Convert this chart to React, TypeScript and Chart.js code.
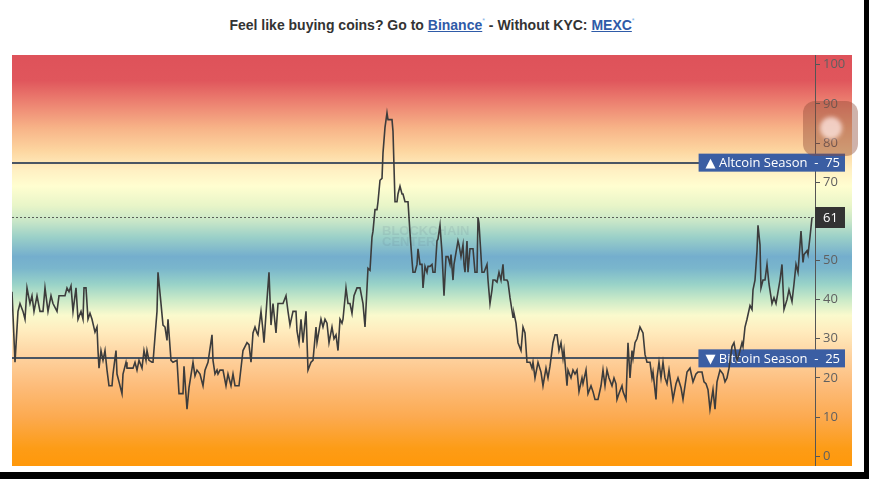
import React, { useEffect, useRef } from "react";
import { Chart, registerables } from "chart.js";

Chart.register(...registerables);

// Day index (x) and Altcoin Season Index value (y)
const days = [
  0, 3, 6, 8, 11, 13, 15, 18, 20, 22, 25, 28, 31, 33, 36, 39, 41, 45, 47, 53, 55, 57, 59, 61, 64, 66, 69, 71, 72, 74, 76, 78, 80, 83, 85, 86, 87, 89, 91, 93, 95, 97, 100, 101, 104, 105, 107, 110, 111, 114, 115, 118, 121, 123, 125, 127, 130, 132, 134, 135, 137, 140, 141, 145, 146, 149, 151, 153, 155, 156, 159, 161, 165, 167, 171, 172, 175, 177, 181, 183, 185, 188, 191, 193, 196,
  200, 201, 203, 205, 206, 208, 211, 214, 216, 219, 221, 223, 227, 231, 235, 237, 239, 241, 243, 245, 246, 249, 251, 252, 255, 257, 259, 261, 264, 266, 270, 271, 274, 276, 278, 281, 284, 285, 287, 289, 291, 294, 296, 299, 301, 304, 305, 309, 311, 313, 315, 317, 320, 322, 324, 326, 328, 330, 331, 334, 336, 338, 340, 342, 345, 348, 351, 353, 356,
  358, 360, 361, 363, 365, 366, 368, 370, 371, 373, 375, 376, 379, 380, 381, 383, 385, 386, 388, 390, 391, 393, 395, 396, 398, 400, 401, 403, 405, 406, 408, 410, 411, 413, 415, 416, 418, 420, 421, 423, 425, 426, 428, 430, 432, 434, 436, 438, 439, 441, 442, 444, 446, 447, 449, 451, 452, 453, 455, 456, 458, 461, 463, 465, 466, 467, 470, 472, 475, 476, 478, 480, 481, 483, 485, 487, 489, 491, 492, 495, 496,
  498, 501, 502, 504, 506, 509, 511, 513, 515, 518, 520, 521, 523, 526, 529, 531, 534, 536, 538, 541, 543, 545, 547, 549, 551, 552, 555, 556, 559, 561, 563, 565, 567, 570, 571, 574, 576, 579, 581, 583, 586, 589, 591, 593, 595, 597, 600, 602, 604, 605, 607, 610, 611, 614, 616, 618, 620, 621, 623, 625, 628, 631, 633, 635, 638, 640, 641, 644, 645, 647, 649, 651, 653, 655, 657, 660, 661, 664, 666, 669, 671, 673, 675, 678,
  681, 684, 686, 690, 692, 694, 696, 698, 701, 703, 705, 708, 711, 713, 715, 717, 720, 722, 725, 727, 730, 731, 733, 735, 738, 740, 741, 743, 745, 746, 748, 749, 751, 753, 755, 757, 760, 762, 764, 766, 768, 770, 772, 775, 777, 780, 782, 784, 786, 789, 791, 792, 795, 796, 798, 800,
];

const values = [
  42, 24, 37, 39, 37, 35, 43, 39, 41, 37, 41, 37, 37, 43, 37, 41, 39, 37, 41, 41, 43, 42, 43.5, 37, 43, 35, 37, 35, 43, 43, 35, 36.5, 35, 31.7, 33, 27, 22.5, 27, 24.5, 27, 22, 18, 18, 21, 27, 21, 19, 16, 21, 24, 22.5, 22.5, 22.5, 24, 22, 24.5, 22.5, 27, 24.5, 27, 24.5, 24, 24, 37, 47, 39, 33.5, 33, 29.6, 35, 24.5, 24, 24.5, 16, 16, 23, 12, 17.5, 24, 20.5, 22, 21, 18, 22, 24,
  31, 24.5, 21, 22, 21, 22, 22, 18, 21, 18, 21, 18, 18, 27, 29, 28.5, 24, 31.5, 33, 31.5, 31, 37, 32, 29, 40, 47, 33.5, 39, 31.5, 39, 39, 39, 41, 37, 33.5, 37, 37, 32, 29, 35, 29, 37, 22, 24, 24.5, 33, 29, 35, 33, 35, 34, 29, 33, 30, 31, 27, 35, 34, 35, 43, 39, 39, 36.5, 41, 43, 43, 39, 33, 48,
  47.5, 56, 57.5, 63, 63, 65, 70.5, 71, 77.5, 84, 87.7, 86, 86, 86, 83, 65, 65, 67, 69, 67, 67, 65, 65, 65, 57, 50, 47, 47, 49, 53, 49, 49, 43, 48.5, 47, 48.5, 48.5, 49, 47, 47, 55, 55.5, 59, 52, 41, 51, 51, 49, 51.5, 45, 49, 52, 55, 54, 51, 54, 49, 47, 55, 47, 53, 53, 47, 47, 61, 59.5, 47, 47, 49, 45, 39, 42.5, 45, 45, 44.5, 47, 45, 49, 45, 45, 44.5,
  40.5, 35.5, 36.5, 34, 29, 27, 33, 31.5, 24, 24, 22.5, 24, 20, 24, 21.5, 18, 22.5, 20, 23, 29, 31, 31, 27, 29, 25, 27, 18, 22, 20, 22, 21, 22, 16.5, 20, 18.5, 22, 16, 18, 16.5, 14.5, 14.5, 18, 22, 18, 22, 20, 18, 20, 18.5, 14.5, 16, 18, 16.5, 14.5, 29, 20, 27, 25, 29, 30, 33, 31.5, 26, 24, 24, 20, 21.5, 14.5, 20, 24, 20, 24, 20, 18.5, 22, 16.5, 14.5, 18.5, 20, 17.5, 14.5, 18, 21.5, 22.5,
  19, 21, 21.5, 21.5, 19, 18.5, 17, 12, 17, 12, 19, 22, 21, 19, 20, 22.5, 28, 29, 24.5, 26, 29, 28, 33, 35, 38.5, 37.5, 42.5, 45, 52.5, 59, 54, 43, 45, 45, 49, 44, 39, 40.5, 39, 42, 45, 49, 37.5, 40, 42.5, 39.5, 44, 49, 47, 57.5, 49.5, 51.5, 52.5, 51.5, 56, 61,
];

const yTicks = [0, 10, 20, 30, 40, 50, 60, 70, 80, 90, 100];
const altcoinLevel = 75;
const bitcoinLevel = 25;
const currentValue = 61;
const altcoinLabel = "\u25B2 Altcoin Season  -  75";
const bitcoinLabel = "\u25BC Bitcoin Season  -  25";
const watermarkLines = ["BLOCKCHAIN", "CENTER"];

const Y_MIN = -2.5;
const Y_MAX = 102.5;
const X_MAX = 803;

const gradientStops: [number, string][] = [
  [102.5, "rgb(222,82,90)"],
  [96, "rgb(224,86,92)"],
  [90, "rgb(237,132,114)"],
  [84, "rgb(247,178,135)"],
  [78, "rgb(253,214,160)"],
  [73, "rgb(255,240,195)"],
  [69, "rgb(255,254,208)"],
  [64, "rgb(232,245,200)"],
  [60, "rgb(200,230,200)"],
  [56, "rgb(155,208,200)"],
  [51, "rgb(116,174,205)"],
  [48, "rgb(122,182,204)"],
  [44, "rgb(152,210,200)"],
  [40, "rgb(202,234,200)"],
  [36, "rgb(250,250,205)"],
  [32, "rgb(255,236,190)"],
  [26, "rgb(254,212,162)"],
  [18, "rgb(253,188,122)"],
  [10, "rgb(252,170,80)"],
  [2, "rgb(253,156,22)"],
  [-2.5, "rgb(255,152,10)"],
];

const LABEL_FONT = "13px 'Open Sans', 'DejaVu Sans', sans-serif";

const bgPlugin = {
  id: "bgGradient",
  beforeDraw(chart: any) {
    const { ctx, chartArea, scales } = chart;
    const y = scales.y;
    const span = chartArea.bottom - chartArea.top;
    const g = ctx.createLinearGradient(0, chartArea.top, 0, chartArea.bottom);
    for (const [v, c] of gradientStops) {
      const p = (y.getPixelForValue(v) - chartArea.top) / span;
      g.addColorStop(Math.min(1, Math.max(0, p)), c);
    }
    ctx.save();
    ctx.fillStyle = g;
    ctx.fillRect(0, chartArea.top, chart.width, span);
    ctx.restore();
  },
};

function drawTag(ctx: any, text: string, yPix: number, right: number) {
  ctx.font = LABEL_FONT;
  const w = ctx.measureText(text).width;
  const h = 18;
  const left = right - w - 12;
  ctx.fillStyle = "#3b5ea3";
  ctx.fillRect(left, yPix - h / 2, right - left, h);
  ctx.fillStyle = "#ffffff";
  ctx.textAlign = "left";
  ctx.textBaseline = "middle";
  ctx.fillText(text, left + 7, yPix + 0.5);
}

const annotationPlugin = {
  id: "levels",
  beforeDatasetsDraw(chart: any) {
    const { ctx, chartArea, scales } = chart;
    const y = scales.y;
    const x = scales.x;
    ctx.save();

    // watermark
    ctx.font = "bold 13px 'Liberation Sans', Arial, sans-serif";
    ctx.fillStyle = "rgba(80,100,120,0.12)";
    ctx.textAlign = "left";
    ctx.textBaseline = "middle";
    const wx = x.getPixelForValue(370);
    ctx.fillText(watermarkLines[0], wx, y.getPixelForValue(57.5));
    ctx.fillText(watermarkLines[1], wx, y.getPixelForValue(54.5));

    // level lines
    ctx.strokeStyle = "#4a5563";
    ctx.lineWidth = 2;
    for (const lv of [altcoinLevel, bitcoinLevel]) {
      const py = Math.round(y.getPixelForValue(lv));
      ctx.beginPath();
      ctx.moveTo(chartArea.left, py);
      ctx.lineTo(chartArea.right, py);
      ctx.stroke();
    }

    // current value dotted line
    const cy = Math.round(y.getPixelForValue(currentValue)) + 0.5;
    ctx.strokeStyle = "rgba(60,60,60,0.8)";
    ctx.lineWidth = 1;
    ctx.setLineDash([2, 2]);
    ctx.beginPath();
    ctx.moveTo(chartArea.left, cy);
    ctx.lineTo(chartArea.right, cy);
    ctx.stroke();
    ctx.setLineDash([]);

    const tagRight = chartArea.right + 30;
    drawTag(ctx, altcoinLabel, y.getPixelForValue(altcoinLevel), tagRight);
    drawTag(ctx, bitcoinLabel, y.getPixelForValue(bitcoinLevel), tagRight);

    // current value box
    const bh = 21;
    ctx.fillStyle = "#333333";
    ctx.fillRect(chartArea.right, cy - bh / 2, 30, bh);
    ctx.fillStyle = "#ffffff";
    ctx.font = LABEL_FONT;
    ctx.textAlign = "left";
    ctx.textBaseline = "middle";
    ctx.fillText(String(currentValue), chartArea.right + 8, cy + 0.5);

    ctx.restore();
  },
};

export default function App() {
  const canvasRef = useRef<HTMLCanvasElement | null>(null);

  useEffect(() => {
    const canvas = canvasRef.current;
    if (!canvas) return;
    const points = days.map((d, i) => ({ x: d, y: values[i] }));
    const chart = new Chart(canvas, {
      type: "line",
      data: {
        datasets: [
          {
            data: points,
            borderColor: "#3c3c3c",
            borderWidth: 1.6,
            pointRadius: 0,
            tension: 0,
            fill: false,
          },
        ],
      },
      options: {
        animation: false,
        responsive: false,
        maintainAspectRatio: false,
        devicePixelRatio: 1,
        layout: { padding: 0 },
        plugins: {
          legend: { display: false },
          tooltip: { enabled: false },
          title: { display: false },
        },
        scales: {
          x: { type: "linear", min: 0, max: X_MAX, display: false },
          y: {
            position: "right",
            min: Y_MIN,
            max: Y_MAX,
            afterBuildTicks: (s: any) => {
              s.ticks = yTicks.map((v) => ({ value: v }));
            },
            afterFit: (s: any) => {
              s.width = 37;
              s.paddingTop = 0;
              s.paddingBottom = 0;
            },
            grid: { drawOnChartArea: false, drawTicks: true, tickLength: 5, color: "#555" },
            border: { display: true, color: "#555", width: 1 },
            ticks: {
              color: "#606060",
              font: { family: "'Open Sans', 'DejaVu Sans', sans-serif", size: 13 },
              padding: 3,
            },
          },
        },
      } as any,
      plugins: [bgPlugin, annotationPlugin],
    });
    return () => chart.destroy();
  }, []);

  const linkStyle: React.CSSProperties = { color: "#2f5ba8", textDecoration: "underline" };
  const supStyle: React.CSSProperties = {
    color: "#7fb2e5",
    fontSize: "7px",
    verticalAlign: "top",
    lineHeight: "8px",
    fontWeight: "normal",
  };

  return (
    <div
      style={{
        position: "absolute",
        left: 0,
        top: 0,
        width: 869,
        height: 479,
        background: "#ffffff",
        overflow: "hidden",
      }}
    >
      <div
        style={{
          position: "absolute",
          left: 0,
          top: 17,
          width: 864,
          textAlign: "center",
          font: "bold 14px 'Liberation Sans', Arial, sans-serif",
          lineHeight: "16px",
          color: "#333333",
        }}
      >
        Feel like buying coins? Go to <span style={linkStyle}>Binance</span>
        <span style={supStyle}>*</span> - Without KYC: <span style={linkStyle}>MEXC</span>
        <span style={supStyle}>*</span>
      </div>
      <canvas
        ref={canvasRef}
        width={840}
        height={411}
        style={{ position: "absolute", left: 12, top: 55, width: 840, height: 411 }}
      />
      <div
        style={{
          position: "absolute",
          left: 803,
          top: 101,
          width: 55,
          height: 55,
          borderRadius: 12,
          background: "rgba(140,72,52,0.42)",
        }}
      >
        <div
          style={{
            position: "absolute",
            left: 17,
            top: 16,
            width: 22,
            height: 22,
            borderRadius: 11,
            background: "rgba(255,232,228,0.75)",
            filter: "blur(2px)",
          }}
        />
      </div>
      <div style={{ position: "absolute", left: 864, top: 0, width: 5, height: 479, background: "#000" }} />
      <div style={{ position: "absolute", left: 0, top: 472, width: 869, height: 7, background: "#000" }} />
    </div>
  );
}
